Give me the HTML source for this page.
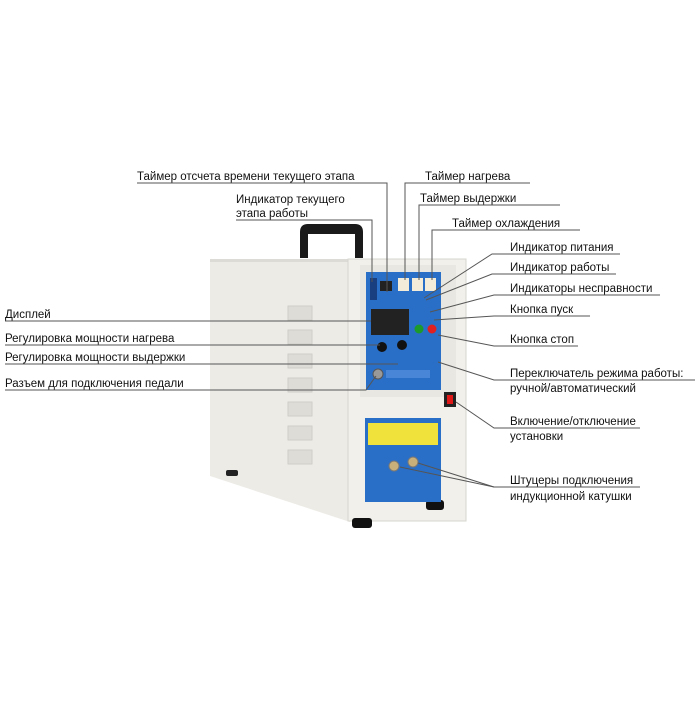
<!DOCTYPE html>
<html><head><meta charset="utf-8"><style>
body{margin:0;background:#fff;}
svg text{font-family:"Liberation Sans",sans-serif;font-size:11.5px;fill:#111;}
</style></head><body>
<svg width="700" height="700" viewBox="0 0 700 700" xmlns="http://www.w3.org/2000/svg">
<path d="M300 258 L300 232 Q300 224 308 224 L355 224 Q363 224 363 232 L363 258 L355 258 L355 234 L308 234 L308 258 Z" fill="#1a1a1a"/>
<polygon points="210,259 350,259 350,522 210,476" fill="#ecebe6"/>
<polygon points="210,259 350,259 350,262 210,262" fill="#dcdbd5"/>
<g fill="#dddcd6" stroke="#cfcec8">
<rect x="288" y="306" width="24" height="14"/><rect x="288" y="330" width="24" height="14"/>
<rect x="288" y="354" width="24" height="14"/><rect x="288" y="378" width="24" height="14"/>
<rect x="288" y="402" width="24" height="14"/><rect x="288" y="426" width="24" height="14"/>
<rect x="288" y="450" width="24" height="14"/>
</g>
<rect x="348" y="259" width="118" height="262" fill="#f1f0eb" stroke="#d6d5cf"/>
<rect x="360" y="265" width="96" height="132" fill="#e8e7e1"/>
<rect x="352" y="518" width="20" height="10" rx="3" fill="#111"/>
<rect x="426" y="500" width="18" height="10" rx="3" fill="#111"/>
<rect x="226" y="470" width="12" height="6" rx="2" fill="#222"/>
<rect x="366" y="272" width="75" height="118" fill="#2a6fc7"/>
<rect x="370" y="278" width="7" height="22" fill="#1a3f80"/>
<rect x="380" y="281" width="12" height="10" fill="#222"/>
<rect x="398" y="278" width="11" height="13" fill="#f3ecd8"/>
<rect x="412" y="278" width="11" height="13" fill="#f3ecd8"/>
<rect x="425" y="278" width="11" height="13" fill="#f3ecd8"/>
<rect x="371" y="309" width="38" height="26" fill="#222"/>
<circle cx="382" cy="347" r="5" fill="#111"/><circle cx="402" cy="345" r="5" fill="#111"/>
<circle cx="419" cy="329" r="4.5" fill="#1c9a2b"/><circle cx="432" cy="329" r="4.5" fill="#e02020"/>
<circle cx="378" cy="374" r="5" fill="#999" stroke="#555"/>
<rect x="386" y="370" width="44" height="8" fill="#4a86d8"/>
<rect x="444" y="392" width="12" height="15" fill="#222"/><rect x="447" y="395" width="6" height="9" fill="#e01818"/>
<rect x="365" y="418" width="76" height="84" fill="#2a6fc7"/>
<rect x="368" y="423" width="70" height="22" fill="#f0e23a"/>
<circle cx="394" cy="466" r="5" fill="#c9b07a" stroke="#777"/><circle cx="413" cy="462" r="5" fill="#c9b07a" stroke="#777"/>
<g stroke="#555" stroke-width="1" fill="none">
<polyline points="137,183 387,183 387,292"/>
<polyline points="236,220 372,220 372,282"/>
<path d="M405,280 L405,183 L530,183"/>
<path d="M419,280 L419,205 L560,205"/>
<path d="M432,280 L432,230 L580,230"/>
<polyline points="424,298 492,254 620,254"/>
<polyline points="426,300 492,274 616,274"/>
<polyline points="430,312 494,295 660,295"/>
<polyline points="434,320 494,316 590,316"/>
<polyline points="438,335 494,346 578,346"/>
<polyline points="438,362 494,380 695,380"/>
<polyline points="456,402 494,428 640,428"/>
<polyline points="400,467 494,487 640,487"/>
<polyline points="418,463 494,487"/>
<line x1="5" y1="321" x2="371" y2="321"/>
<line x1="5" y1="345" x2="380" y2="345"/>
<line x1="5" y1="364" x2="398" y2="364"/>
<polyline points="5,390 366,390 376,376"/>
</g>
<text x="137" y="180">Таймер отсчета времени текущего этапа</text>
<text x="236" y="203">Индикатор текущего</text>
<text x="236" y="217">этапа работы</text>
<text x="425" y="180">Таймер нагрева</text>
<text x="420" y="202">Таймер выдержки</text>
<text x="452" y="227">Таймер охлаждения</text>
<text x="510" y="251">Индикатор питания</text>
<text x="510" y="271">Индикатор работы</text>
<text x="510" y="292">Индикаторы несправности</text>
<text x="510" y="313">Кнопка пуск</text>
<text x="510" y="343">Кнопка стоп</text>
<text x="510" y="377">Переключатель режима работы:</text>
<text x="510" y="392">ручной/автоматический</text>
<text x="510" y="425">Включение/отключение</text>
<text x="510" y="440">установки</text>
<text x="510" y="484">Штуцеры подключения</text>
<text x="510" y="500">индукционной катушки</text>
<text x="5" y="318">Дисплей</text>
<text x="5" y="342">Регулировка мощности нагрева</text>
<text x="5" y="361">Регулировка мощности выдержки</text>
<text x="5" y="387">Разъем для подключения педали</text>
</svg>
</body></html>
